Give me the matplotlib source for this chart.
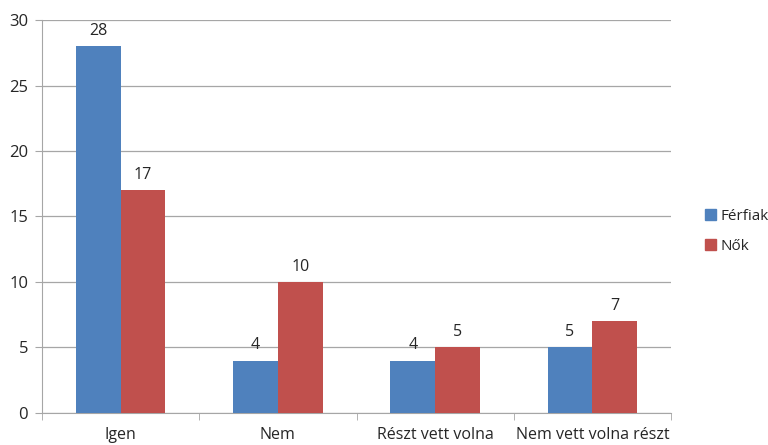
import numpy as np
import matplotlib.pyplot as plt
from matplotlib.patches import Patch

# Daten
categories = ["Igen", "Nem", "Részt vett volna", "Nem vett volna részt"]
ferfiak = [28, 4, 4, 5]
nok = [17, 10, 5, 7]
series_names = ["Férfiak", "Nők"]

BLUE = "#4F81BD"
RED = "#C0504D"
GRID = "#A6A6A6"
TXT = "#262626"

plt.rcParams['font.family'] = ['Open Sans', 'DejaVu Sans']

fig = plt.figure(figsize=(7.68, 4.45), dpi=100)
ax = fig.add_axes([0.0547, 0.072, 0.819, 0.883])

x = np.arange(len(categories))
w = 0.285

b1 = ax.bar(x - w / 2, ferfiak, w, color=BLUE, zorder=3)
b2 = ax.bar(x + w / 2, nok, w, color=RED, zorder=3)

for bars, vals in ((b1, ferfiak), (b2, nok)):
    for rect, v in zip(bars, vals):
        ax.text(rect.get_x() + rect.get_width() / 2, v + 0.55, str(v),
                ha="center", va="bottom", fontsize=11.5, color=TXT)

ax.set_xlim(-0.5, len(categories) - 0.5)
ax.set_ylim(0, 30)
ax.set_yticks(range(0, 31, 5))
ax.yaxis.grid(True, color=GRID, linewidth=0.9, zorder=0)

ax.set_xticks(x)
ax.set_xticklabels(categories, fontsize=11.5, color=TXT)
ax.tick_params(axis="x", which="major", length=0, pad=10)
ax.set_xticks(np.arange(-0.5, len(categories), 1), minor=True)
ax.tick_params(axis="x", which="minor", length=5, color=GRID)
ax.tick_params(axis="y", length=5, color=GRID, labelsize=12, labelcolor=TXT, pad=5)

for s in ("top", "right"):
    ax.spines[s].set_visible(False)
ax.spines["left"].set_color(GRID)
ax.spines["bottom"].set_color(GRID)

handles = [Patch(color=BLUE), Patch(color=RED)]
fig.legend(handles, series_names, loc="center left", bbox_to_anchor=(0.9, 0.48),
           frameon=False, fontsize=11, handlelength=0.75, handleheight=0.75,
           handletextpad=0.25, labelspacing=1.0, labelcolor=TXT)

fig.savefig("out.png", dpi=100)
